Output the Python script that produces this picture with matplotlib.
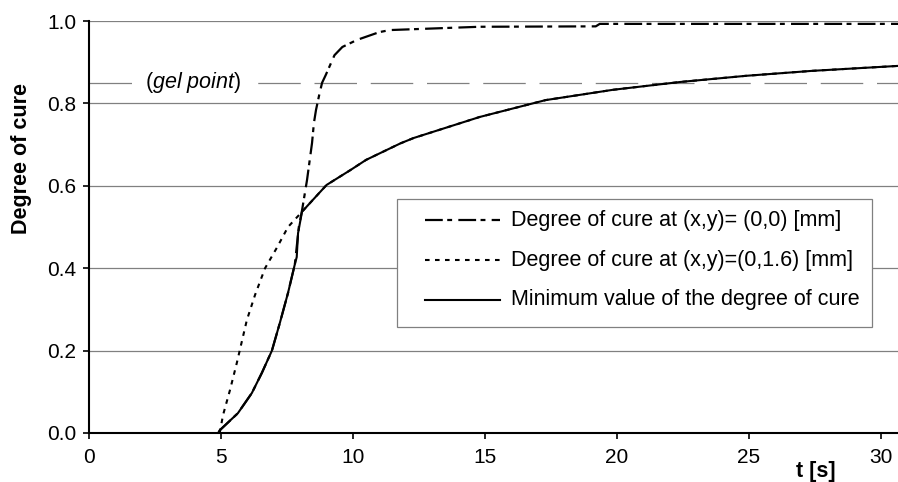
import matplotlib.pyplot as plt
from matplotlib.patches import Rectangle

plt.rcParams['font.family'] = ['Liberation Sans', 'DejaVu Sans']
plt.rcParams['mathtext.fontset'] = 'custom'
plt.rcParams['mathtext.rm'] = 'Liberation Sans'
plt.rcParams['mathtext.it'] = 'Liberation Sans:italic'

# minimum value of the degree of cure
t_min = [4.9, 4.96, 5.64, 6.17, 6.55, 6.93, 7.23, 7.54, 7.8, 7.87, 7.92, 8.07, 8.37, 9.0,
         9.9, 10.5, 11.8, 12.3, 14.8, 17.3, 19.85, 22.4, 24.9, 27.4, 30.65]
a_min = [0.0, 0.007, 0.048, 0.097, 0.146, 0.2, 0.267, 0.34, 0.41, 0.427, 0.485, 0.537, 0.558,
         0.602, 0.638, 0.663, 0.703, 0.716, 0.767, 0.808, 0.833, 0.852, 0.867, 0.879, 0.891]

# degree of cure at (0,1.6): early part, afterwards same as minimum
t_16 = [4.95, 5.08, 5.34, 5.6, 5.98, 6.29, 6.67, 7.12, 7.54] + t_min[11:]
a_16 = [0.0, 0.044, 0.104, 0.17, 0.274, 0.335, 0.40, 0.45, 0.50] + a_min[11:]

# degree of cure at (0,0): same as minimum until ~7.9 s, then steep rise
t_00 = t_min[:9] + [7.95, 8.07, 8.26, 8.45, 8.52, 8.6, 8.72, 8.83, 8.97, 9.3, 9.6, 10.15,
                    11.0, 11.4, 14.8, 19.2, 19.35, 30.65]
a_00 = a_min[:9] + [0.5, 0.54, 0.614, 0.704, 0.752, 0.784, 0.82, 0.85, 0.869, 0.917, 0.937,
                    0.954, 0.973, 0.978, 0.986, 0.987, 0.993, 0.993]

labels = ['Degree of cure at (x,y)= (0,0) [mm]',
          'Degree of cure at (x,y)=(0,1.6) [mm]',
          'Minimum value of the degree of cure']

gel_point = 0.85

W, H = 898, 482
fig = plt.figure(figsize=(W / 100, H / 100), dpi=100)
ax = fig.add_axes([89 / W, 1 - 433 / H, 809 / W, 412 / H])

def ax_frac(px, py):
    # pixel position in the figure -> axes fraction
    return (px - 89) / 809, (433 - py) / 412

# grid lines and gel point
for yv in [0.2, 0.4, 0.6, 0.8, 1.0]:
    ax.axhline(yv, color='#808080', lw=0.9, zorder=1)
ax.axhline(gel_point, color='#808080', lw=0.9, linestyle=(0, (34, 11)), zorder=1)
ax.text(3.94, gel_point, '(' + r'$\mathit{gel\ point}$' + ')', fontsize=15.5,
        ha='center', va='center', zorder=2,
        bbox=dict(facecolor='white', edgecolor='none', pad=4))

# curves
styles = [dict(lw=1.6, linestyle=(0, (8, 2, 2.2, 2.8))),
          dict(lw=1.5, linestyle=(0, (2.2, 2.6))),
          dict(lw=1.5, linestyle='-')]
ax.plot(t_min, a_min, color='black', zorder=3, **styles[2])
ax.plot(t_16, a_16, color='black', zorder=4, **styles[1])
ax.plot(t_00, a_00, color='black', zorder=5, **styles[0])

ax.set_xlim(0, 30.65)
ax.set_ylim(0, 1.0)
ax.set_xticks([0, 5, 10, 15, 20, 25, 30])
ax.set_yticks([0.0, 0.2, 0.4, 0.6, 0.8, 1.0])
ax.set_yticklabels(['0.0', '0.2', '0.4', '0.6', '0.8', '1.0'])
ax.tick_params(direction='out', length=4, width=1.2, labelsize=15)
ax.tick_params(axis='x', pad=7)
ax.tick_params(axis='y', pad=5)

for s in ['top', 'right']:
    ax.spines[s].set_visible(False)
for s in ['left', 'bottom']:
    ax.spines[s].set_linewidth(1.5)
ax.spines['bottom'].set_zorder(6)

fig.text(22 / W, 1 - 158 / H, 'Degree of cure', fontsize=15.5, fontweight='bold',
         rotation=90, ha='center', va='center')
fig.text(816 / W, 1 - 472 / H, 't [s]', fontsize=15.5, fontweight='bold',
         ha='center', va='center')

# legend box, laid out by hand to follow the original spacing
x0, y0 = ax_frac(397, 327)
x1, y1 = ax_frac(872, 199)
ax.add_patch(Rectangle((x0, y0), x1 - x0, y1 - y0, transform=ax.transAxes,
                       facecolor='white', edgecolor='#808080', lw=0.9, zorder=7))
for i, (lab, st) in enumerate(zip(labels, styles)):
    row_y = 220 + 40 * i
    hx0, hy = ax_frac(425, row_y)
    hx1, _ = ax_frac(500, row_y)
    tx, _ = ax_frac(511, row_y)
    ax.plot([hx0, hx1], [hy, hy], color='black', transform=ax.transAxes, zorder=8,
            clip_on=False, **st)
    ax.text(tx, hy, lab, transform=ax.transAxes, fontsize=15.5, ha='left', va='center',
            zorder=8)

plt.savefig('out.png', dpi=100)
